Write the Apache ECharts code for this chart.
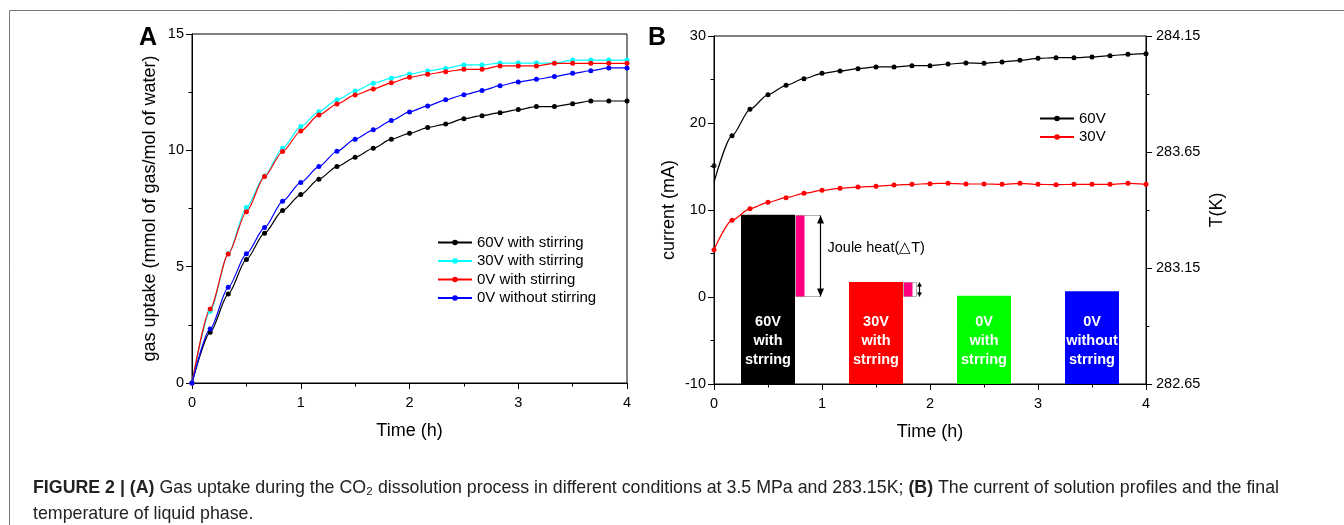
<!DOCTYPE html>
<html><head><meta charset="utf-8">
<script src="https://cdn.jsdelivr.net/npm/echarts@6/dist/echarts.min.js"></script>
<style>html,body{margin:0;padding:0;background:#fff}#c{width:1344px;height:525px}</style>
</head><body><div id="c"></div>
<script>
// ---------- DATA ----------
const timeH = [0,0.167,0.333,0.5,0.667,0.833,1,1.167,1.333,1.5,1.667,1.833,2,2.167,2.333,2.5,2.667,2.833,3,3.167,3.333,3.5,3.667,3.833,4];
const xTicksH = [0,1,2,3,4];
// Panel A: gas uptake (mmol of gas / mol of water)
const namesA = ['60V with stirring','30V with stirring','0V with stirring','0V without stirring'];
const up60 = [0,2.18,3.82,5.31,6.44,7.41,8.10,8.76,9.30,9.70,10.09,10.48,10.73,10.98,11.13,11.36,11.49,11.62,11.75,11.88,11.88,12.00,12.12,12.12,12.12];
const up30 = [0,3.08,5.55,7.54,8.90,10.09,11.02,11.66,12.17,12.55,12.88,13.10,13.28,13.41,13.52,13.67,13.67,13.75,13.75,13.75,13.75,13.88,13.88,13.88,13.88];
const up0s = [0,3.18,5.54,7.36,8.87,9.95,10.83,11.52,11.99,12.38,12.64,12.90,13.14,13.27,13.38,13.48,13.48,13.63,13.63,13.63,13.74,13.74,13.74,13.74,13.74];
const up0n = [0,2.32,4.11,5.55,6.68,7.81,8.62,9.30,9.96,10.48,10.88,11.28,11.65,11.91,12.17,12.39,12.57,12.78,12.94,13.05,13.17,13.31,13.42,13.54,13.54];
// Panel B: current (mA)
const namesB = ['60V','30V'];
const cur60Start = 13.2;   // line start at t = 0
const cur60 = [15.1,18.54,21.57,23.26,24.33,25.10,25.71,25.98,26.25,26.44,26.44,26.59,26.59,26.78,26.90,26.86,27.01,27.20,27.43,27.51,27.51,27.59,27.74,27.89,27.97];
const cur30 = [5.44,8.81,10.15,10.88,11.42,11.92,12.26,12.49,12.64,12.72,12.87,12.95,13.03,13.07,12.99,12.99,12.95,13.07,12.95,12.91,12.95,12.95,12.95,13.07,12.95];
// Panel B: final liquid temperature (K)
const barCenters = [0.5,1.5,2.5,3.5];
const barTemps = [283.38,283.09,283.03,283.05];
const barLabels = ['60V\nwith\nstrring','30V\nwith\nstrring','0V\nwith\nstrring','0V\nwithout\nstrring'];
const tempTicks = [282.65,283.15,283.65,284.15];
const jouleBars = [0,1];          // bars with Joule heat annotation
const jouleRefBar = 2;            // reference: 0V with stirring
const jouleText = 'Joule heat(△T)';

// ---------- STYLE ----------
const FONT = "'Liberation Sans', Arial, sans-serif";
const colorsA = ['#000000','#00ffff','#ff0000','#0000ff'];
const colorsB = ['#000000','#ff0000'];
const barColors = ['#000000','#ff0000','#00ff00','#0000ff'];
const BAR_HALF = 0.25;
const T0 = tempTicks[0];
const annBox = [25, 13];
const annArrow = [25, 16];

const chart = echarts.init(document.getElementById('c'));

function axisCommon(){
  return {
    axisLine:{show:true,onZero:false,lineStyle:{color:'#000',width:1}},
    axisTick:{show:true,inside:false,length:6,lineStyle:{color:'#000'}},
    minorTick:{show:true,splitNumber:2,length:3.5,lineStyle:{color:'#000'}},
    splitLine:{show:false},
    axisLabel:{color:'#000',fontSize:14.5,fontFamily:FONT},
    nameTextStyle:{color:'#000',fontSize:18,fontFamily:FONT}
  };
}
function xAxisLabel(){ return {color:'#000',fontSize:14.5,fontFamily:FONT,margin:12}; }

function lineSeries(name, color, data, xi, yi){
  return {
    type:'line', name, xAxisIndex:xi, yAxisIndex:yi, data,
    symbol:'circle', symbolSize:5, showSymbol:true, clip:false,
    smooth:0.25, smoothMonotone:'x',
    lineStyle:{color, width:1.2}, itemStyle:{color},
    z:3, animation:false
  };
}

const seriesA = [up60, up30, up0s, up0n].map((arr,i)=>
  lineSeries(namesA[i], colorsA[i], arr.map((v,k)=>[timeH[k], v]), 0, 0));

const d60 = cur60.map((v,k)=>[timeH[k], v]);
d60[0] = {value:[timeH[0], cur60Start], symbol:'none'};
const s60 = lineSeries(namesB[0], colorsB[0], d60, 1, 1);
const s60Start = {type:'scatter', name:'60V-start', xAxisIndex:1, yAxisIndex:1, data:[[timeH[0], cur60[0]]],
  symbol:'circle', symbolSize:5, clip:false, itemStyle:{color:colorsB[0]}, z:3, animation:false};
const s30 = lineSeries(namesB[1], colorsB[1], cur30.map((v,k)=>[timeH[k], v]), 1, 1);

const barSeries = {
  type:'custom', xAxisIndex:1, yAxisIndex:2, z:1, animation:false, silent:true,
  data: barCenters.map((c,i)=>[c, barTemps[i]-T0]),
  renderItem(params, api){
    const c = api.value(0), t = api.value(1), i = params.dataIndex;
    const p0 = api.coord([c-BAR_HALF, t]);
    const p1 = api.coord([c+BAR_HALF, 0]);
    return {type:'group', children:[
      {type:'rect', shape:{x:p0[0], y:p0[1], width:p1[0]-p0[0], height:p1[1]-p0[1]}, style:{fill:barColors[i]}},
      {type:'text', x:(p0[0]+p1[0])/2, y:p1[1]-43, style:{text:barLabels[i], fill:'#fff', fontSize:14.5, fontWeight:'bold', fontFamily:FONT, align:'center', verticalAlign:'middle', lineHeight:19}}
    ]};
  }
};

const jouleSeries = {
  type:'custom', xAxisIndex:1, yAxisIndex:2, z:2, animation:false, silent:true,
  data: jouleBars.map(i=>[barCenters[i], barTemps[i]-T0, barTemps[jouleRefBar]-T0]),
  renderItem(params, api){
    const k = params.dataIndex;
    const c = api.value(0);
    const pt = api.coord([c+BAR_HALF, api.value(1)]);
    const pb = api.coord([c+BAR_HALF, api.value(2)]);
    const x = Math.round(pt[0]) , top = Math.round(pt[1]) + 0.5, bot = Math.round(pb[1]) + 0.5;
    const ax = x + annArrow[k] + 0.5;
    const ah = k === 0 ? 8 : 4, aw = k === 0 ? 3.5 : 2.5;
    const children = [
      {type:'rect', shape:{x:x+0.5, y:top, width:annBox[k], height:bot-top}, style:{fill:'none', stroke:'#b0b0b0', lineWidth:1}},
      {type:'rect', shape:{x:x+1, y:top, width:8.5, height:bot-top}, style:{fill:'#ff0080'}},
      {type:'line', shape:{x1:ax, y1:top, x2:ax, y2:bot}, style:{stroke:'#000', lineWidth:1.2}},
      {type:'polygon', shape:{points:[[ax-aw,top+ah],[ax,top],[ax+aw,top+ah]]}, style:{fill:'#000'}},
      {type:'polygon', shape:{points:[[ax-aw,bot-ah],[ax,bot],[ax+aw,bot-ah]]}, style:{fill:'#000'}}
    ];
    if (k === 0) children.push({type:'text', x:ax+7, y:top+32, style:{text:jouleText, fill:'#000', fontSize:14.5, fontFamily:FONT, align:'left', verticalAlign:'middle'}});
    return {type:'group', children};
  }
};

const option = {
  animation:false,
  textStyle:{fontFamily:FONT},
  grid:[
    {left:192, top:34, width:435, height:349, show:true, borderColor:'#000', borderWidth:1, backgroundColor:'transparent'},
    {left:714, top:36, width:432, height:348, show:true, borderColor:'#000', borderWidth:1, backgroundColor:'transparent'}
  ],
  xAxis:[
    Object.assign(axisCommon(), {gridIndex:0, type:'value', min:xTicksH[0], max:xTicksH[4], interval:1,
      axisLabel:xAxisLabel(), name:'Time (h)', nameLocation:'middle', nameGap:39}),
    Object.assign(axisCommon(), {gridIndex:1, type:'value', min:xTicksH[0], max:xTicksH[4], interval:1,
      axisLabel:xAxisLabel(), name:'Time (h)', nameLocation:'middle', nameGap:39})
  ],
  yAxis:[
    Object.assign(axisCommon(), {gridIndex:0, type:'value', min:0, max:15, interval:5,
      name:'gas uptake (mmol of gas/mol of water)', nameLocation:'middle', nameGap:33}),
    Object.assign(axisCommon(), {gridIndex:1, type:'value', min:-10, max:30, interval:10,
      name:'current (mA)', nameLocation:'middle', nameGap:36}),
    Object.assign(axisCommon(), {gridIndex:1, type:'value', position:'right', min:0, max:tempTicks[3]-T0, interval:0.5,
      name:'T(K)', nameLocation:'middle', nameGap:62,
      axisLabel:{color:'#000',fontSize:14.5,fontFamily:FONT,margin:10,formatter:v=>(v+T0).toFixed(2)}})
  ],
  legend:[
    {data:namesA, orient:'vertical', left:437, top:235, padding:0, itemWidth:34, itemHeight:7, itemGap:3.5,
      textStyle:{color:'#000',fontSize:15,fontFamily:FONT}, selectedMode:false},
    {data:namesB, orient:'vertical', left:1039, top:111, padding:0, itemWidth:34, itemHeight:7, itemGap:3.5,
      textStyle:{color:'#000',fontSize:15,fontFamily:FONT}, selectedMode:false}
  ],
  graphic:[
    {type:'line', shape:{x1:9.5, y1:10.5, x2:1344, y2:10.5}, style:{stroke:'#777', lineWidth:1}},
    {type:'line', shape:{x1:9.5, y1:10.5, x2:9.5, y2:525}, style:{stroke:'#777', lineWidth:1}},
    {type:'text', x:148, y:38, style:{text:'A', fontSize:25, fontWeight:'bold', fontFamily:FONT, fill:'#000', align:'center', verticalAlign:'middle'}},
    {type:'text', x:657, y:38, style:{text:'B', fontSize:25, fontWeight:'bold', fontFamily:FONT, fill:'#000', align:'center', verticalAlign:'middle'}},
    {type:'text', x:33, y:488, style:{
      text:'{b|FIGURE 2 | (A)} Gas uptake during the CO₂ dissolution process in different conditions at 3.5 MPa and 283.15K; {b|(B)} The current of solution profiles and the final',
      fontSize:17.8, fontFamily:FONT, fill:'#222', verticalAlign:'middle',
      rich:{b:{fontWeight:'bold', fontSize:17.8, fontFamily:FONT, fill:'#222'}}}},
    {type:'text', x:33, y:514, style:{text:'temperature of liquid phase.', fontSize:17.8, fontFamily:FONT, fill:'#222', verticalAlign:'middle'}}
  ],
  series:[barSeries, jouleSeries, ...seriesA, s60, s60Start, s30]
};
chart.setOption(option);
</script></body></html>
